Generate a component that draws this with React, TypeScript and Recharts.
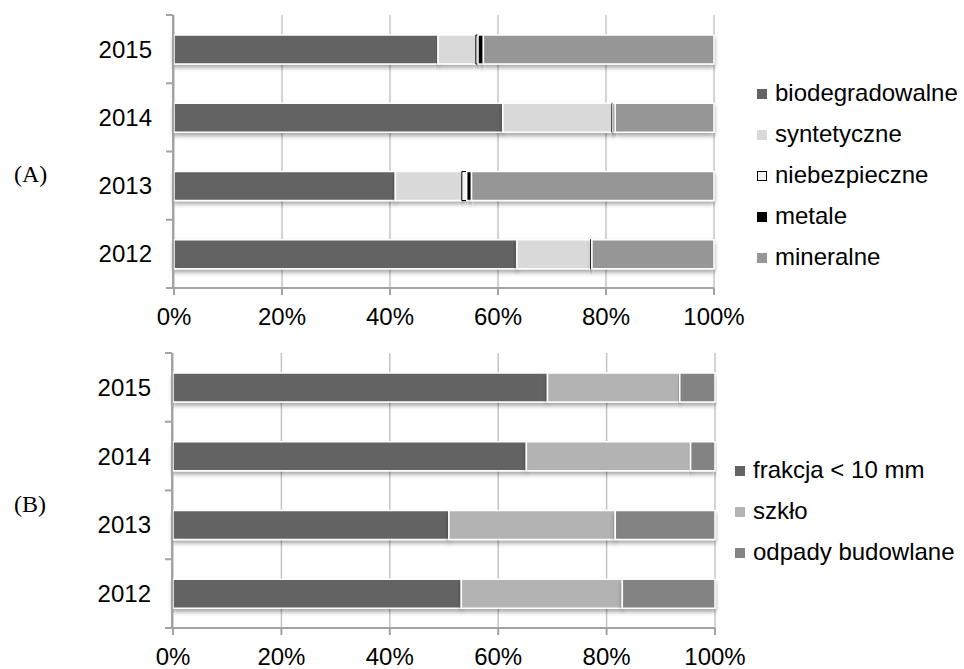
import { Bar, BarChart, CartesianGrid, Legend, XAxis, YAxis } from 'recharts'

const years = ['2015', '2014', '2013', '2012']
const percentTicks = [0, 20, 40, 60, 80, 100]
// boundaries between the four year bands, on the index scale 0..3
const frameTicks = [0, 0.75, 1.5, 2.25, 3]

// (A)
const biodegradowalne = [48.9, 60.9, 41.0, 63.5]
const syntetyczne = [7.0, 20.2, 12.3, 13.6]
const niebezpieczne = [0.4, 0.2, 0.9, 0.2]
const metale = [1.0, 0.4, 0.9, 0.1]
const mineralne = [42.7, 18.3, 44.9, 22.6]

// (B)
const frakcja = [69.1, 65.2, 50.9, 53.2]
const szklo = [24.4, 30.3, 30.7, 29.7]
const budowlane = [6.5, 4.5, 18.4, 17.1]

interface ISeries {
	key: string
	name: string
	color: string
	stroke: string
	values: number[]
}

const seriesA: ISeries[] = [
	{ key: 'bio', name: 'biodegradowalne', color: '#636363', stroke: '#ffffff', values: biodegradowalne },
	{ key: 'syn', name: 'syntetyczne', color: '#d9d9d9', stroke: '#ffffff', values: syntetyczne },
	{ key: 'nie', name: 'niebezpieczne', color: '#f4f4f4', stroke: '#000000', values: niebezpieczne },
	{ key: 'met', name: 'metale', color: '#000000', stroke: '#ffffff', values: metale },
	{ key: 'min', name: 'mineralne', color: '#969696', stroke: '#ffffff', values: mineralne },
]

const seriesB: ISeries[] = [
	{ key: 'fra', name: 'frakcja < 10 mm', color: '#636363', stroke: '#ffffff', values: frakcja },
	{ key: 'szk', name: 'szkło', color: '#b3b3b3', stroke: '#ffffff', values: szklo },
	{ key: 'bud', name: 'odpady budowlane', color: '#838383', stroke: '#ffffff', values: budowlane },
]

const FONT = '"Liberation Sans", Arial, sans-serif'
const AXIS = '#a3a3a3'
const GRID = '#c4c4c4'

interface IPanel {
	id: string
	series: ISeries[]
	top: number
	height: number
	margin: { top: number; right: number; bottom: number; left: number }
	legendLeft: number
	legendTop: number
}

const Panel: React.FC<IPanel> = ({ id, series, top, height, margin, legendLeft, legendTop }) => {
	const data = years.map((year, i) => {
		const row: Record<string, string | number> = { year }
		series.forEach((s) => (row[s.key] = s.values[i]))
		return row
	})

	const legendContent = () => (
		<div style={{ fontFamily: FONT, fontSize: 24, color: '#000' }}>
			{series.map((s) => (
				<div key={s.key} style={{ display: 'flex', alignItems: 'center', height: 41, whiteSpace: 'nowrap' }}>
					<span
						style={{
							display: 'inline-block',
							width: s.stroke === '#000000' ? 8 : 10,
							height: s.stroke === '#000000' ? 8 : 10,
							background: s.color,
							border: s.stroke === '#000000' ? '1px solid #000' : 'none',
							marginRight: 8,
							marginTop: 3,
						}}
					/>
					<span>{s.name}</span>
				</div>
			))}
		</div>
	)

	return (
		<div style={{ position: 'absolute', left: 0, top }}>
			<BarChart width={964} height={height} data={data} layout='vertical' margin={margin} barSize={29}>
				<defs>
					<filter id={`shadow-${id}`} x='-5%' y='-30%' width='110%' height='190%'>
						<feDropShadow dx='0' dy='3' stdDeviation='2' floodColor='#000' floodOpacity='0.35' />
					</filter>
				</defs>
				<CartesianGrid horizontal={false} stroke={GRID} strokeWidth={1.5} />
				<XAxis
					type='number'
					domain={[0, 100]}
					ticks={percentTicks}
					tickFormatter={(v) => `${v}%`}
					height={40}
					tickSize={7}
					tickMargin={13}
					interval={0}
					stroke={AXIS}
					axisLine={{ stroke: AXIS, strokeWidth: 2 }}
					tickLine={{ stroke: AXIS, strokeWidth: 2 }}
					tick={{ fill: '#000', fontSize: 24, fontFamily: FONT }}
				/>
				<YAxis
					yAxisId='frame'
					type='number'
					domain={[0, 3]}
					allowDataOverflow
					ticks={frameTicks}
					width={1}
					tickFormatter={() => ''}
					tick={{ fontSize: 1 }}
					tickSize={7}
					interval={0}
					stroke={AXIS}
					axisLine={{ stroke: AXIS, strokeWidth: 2 }}
					tickLine={{ stroke: AXIS, strokeWidth: 2 }}
				/>
				<YAxis
					type='category'
					dataKey='year'
					width={1}
					axisLine={false}
					tickLine={false}
					tickSize={0}
					tickMargin={22}
					interval={0}
					tick={{ fill: '#000', fontSize: 24, fontFamily: FONT }}
				/>
				{series.map((s) => (
					<Bar
						key={s.key}
						dataKey={s.key}
						name={s.name}
						stackId='a'
						fill={s.color}
						stroke={s.stroke}
						strokeWidth={s.stroke === '#000000' ? 1 : 1.5}
						filter={`url(#shadow-${id})`}
						isAnimationActive={false}
					/>
				))}
				<Legend
					layout='vertical'
					align='center'
					verticalAlign='middle'
					content={legendContent}
					wrapperStyle={{ left: legendLeft, top: legendTop, width: 220 }}
				/>
			</BarChart>
		</div>
	)
}

const labelStyle: React.CSSProperties = {
	position: 'absolute',
	left: 14,
	fontFamily: '"Liberation Serif", "Times New Roman", serif',
	fontSize: 24,
	lineHeight: '24px',
	color: '#000',
}

const App = () => {
	return (
		<div style={{ position: 'absolute', left: 0, top: 0, width: 964, height: 669, background: '#fff' }}>
			<Panel
				id='a'
				series={seriesA}
				top={0}
				height={340}
				margin={{ top: 15, right: 250, bottom: 12, left: 172 }}
				legendLeft={757}
				legendTop={72}
			/>
			<Panel
				id='b'
				series={seriesB}
				top={338}
				height={331}
				margin={{ top: 15, right: 249, bottom: 1, left: 171 }}
				legendLeft={735}
				legendTop={111}
			/>
			<div style={{ ...labelStyle, top: 162 }}>(A)</div>
			<div style={{ ...labelStyle, top: 492 }}>(B)</div>
		</div>
	)
}

export default App
